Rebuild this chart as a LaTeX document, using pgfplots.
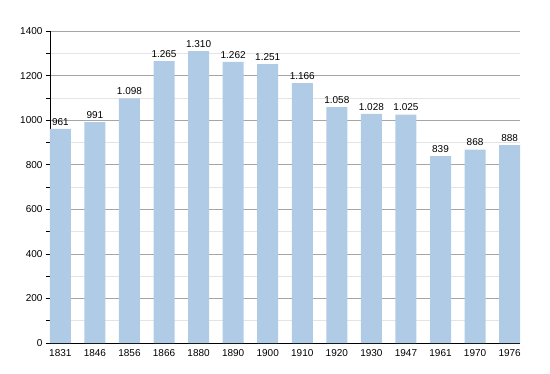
\documentclass[border=0pt]{standalone}
\usepackage{pgfplots}
\pgfplotsset{compat=1.18}
\usepackage{fontspec}
\setmainfont{Liberation Sans}
\definecolor{barblue}{RGB}{176,203,229}
\definecolor{majgrid}{RGB}{165,165,165}
\definecolor{mingrid}{RGB}{228,228,228}
\begin{document}
\begin{tikzpicture}[x=1pt,y=1pt]
\useasboundingbox (-50,-30) rectangle (500,343);
\begin{axis}[
  at={(0,0)}, anchor=south west,
  scale only axis, width=470pt, height=312pt,
  xmin=-0.3, xmax=13.3, ymin=0, ymax=1400,
  axis x line*=bottom, axis y line*=left,
  axis line style={-, black, line width=0.8pt},
  xtick=data,
  xticklabels={1831,1846,1856,1866,1880,1890,1900,1910,1920,1930,1947,1961,1970,1976},
  x tick style={draw=none},
  ytick={0,200,...,1400},
  minor y tick num=1,
  tick align=outside,
  major tick length=4pt, minor tick length=4pt,
  y tick style={black, line width=0.5pt},
  ymajorgrids, yminorgrids,
  major grid style={majgrid, line width=0.6pt},
  minor grid style={mingrid, line width=0.6pt},
  tick label style={font=\fontsize{10}{12}\selectfont},
  /pgf/number format/assume math mode=true,
  /pgf/number format/1000 sep={},
  xticklabel style={yshift=1pt},
  nodes near coords,
  every node near coord/.append style={font=\fontsize{10}{12}\selectfont, /pgf/number format/1000 sep={.}, /pgf/number format/assume math mode=true},
  clip=false,
]
\addplot[ybar, bar width=21pt, fill=barblue, draw=none] coordinates {
(0,961) (1,991) (2,1098) (3,1265) (4,1310) (5,1262) (6,1251) (7,1166) (8,1058) (9,1028) (10,1025) (11,839) (12,868) (13,888)
};
\end{axis}
\end{tikzpicture}
\end{document}
